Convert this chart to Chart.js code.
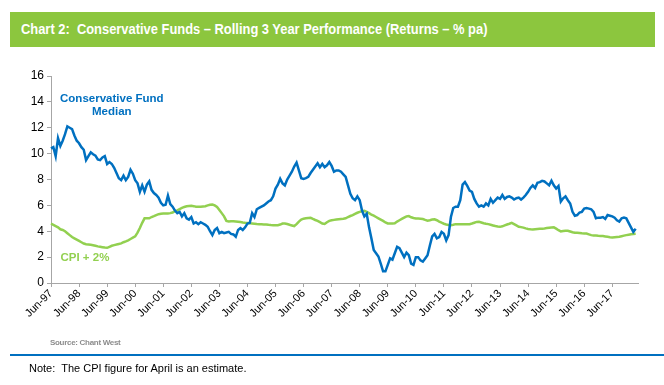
<!DOCTYPE html>
<html>
<head>
<meta charset="utf-8">
<script src="https://cdn.jsdelivr.net/npm/chart.js@4.4.1/dist/chart.umd.min.js"></script>
<style>
  body { margin: 0; background: #fff; width: 664px; height: 385px; overflow: hidden; position: relative; font-family: "Liberation Sans", Arial, sans-serif; }
  .title-bar { position: absolute; left: 10px; top: 12px; width: 645px; height: 35px; background: #8cc63e; }
  .title-bar span { position: absolute; left: 11px; top: 8px; color: #fff; font-weight: bold; font-size: 15px; white-space: nowrap; transform: scaleX(0.86); transform-origin: left center; font-family: "Liberation Sans Narrow", "Arial Narrow", "Liberation Sans", sans-serif; }
  #wrap { position: absolute; left: 0; top: 60px; width: 664px; height: 285px; }
  .source { position: absolute; left: 50px; top: 338px; font-size: 8px; font-weight: bold; color: #8c8c8c; letter-spacing: -0.3px; }
  .rule { position: absolute; left: 10px; top: 354px; width: 654px; height: 2px; background: #0070c0; }
  .note { position: absolute; left: 29px; top: 362px; font-size: 11px; color: #000; }
</style>
</head>
<body>
<div class="title-bar"><span>Chart 2:&nbsp; Conservative Funds – Rolling 3 Year Performance (Returns – % pa)</span></div>
<div id="wrap"><canvas id="chart"></canvas></div>
<div class="source">Source: Chant West</div>
<div class="rule"></div>
<div class="note">Note:&nbsp; The CPI figure for April is an estimate.</div>
<script>
// monthly series, Jun-97 .. Apr-18
const startYear = 1997;
const startMonth = 5; // June
const monthNames = ["Jan", "Feb", "Mar", "Apr", "May", "Jun", "Jul", "Aug", "Sep", "Oct", "Nov", "Dec"];

const conservativeMedian = [
  10.4, 10.5, 9.8, 11.2, 10.6, 11.0, 11.5, 12.1, 12.0, 11.9, 11.4, 11.0,
  10.8, 10.5, 10.3, 9.5, 9.8, 10.1, 9.95, 9.85, 9.55, 9.5, 9.7, 9.8,
  9.2, 9.35, 9.2, 8.9, 8.5, 8.1, 7.95, 8.3, 7.95, 8.2, 8.75, 8.45,
  7.95, 7.7, 7.05, 7.55, 7.05, 7.6, 7.85, 7.2, 6.95, 6.8, 6.6, 6.2,
  6.0, 6.05, 6.75, 6.1, 5.9, 5.6, 5.4, 5.5, 5.15, 5.4, 5.0, 4.9,
  5.1, 4.6, 4.7, 4.55, 4.7, 4.6, 4.5, 4.35, 4.0, 3.7, 4.1, 4.25,
  3.85, 3.95, 3.85, 3.9, 3.95, 3.8, 3.75, 3.57, 4.1, 4.25, 4.1, 4.3,
  4.6, 4.65, 5.4, 5.1, 5.7, 5.8, 5.9, 6.0, 6.15, 6.3, 6.4, 6.7,
  7.3, 7.6, 8.05, 7.7, 7.55, 8.0, 8.3, 8.6, 9.0, 9.3, 8.7, 8.1,
  8.05, 8.1, 8.2, 8.5, 8.75, 9.0, 9.25, 8.95, 9.2, 8.95, 9.1, 9.35,
  9.05, 8.6, 8.7, 8.7, 8.6, 8.4, 8.2, 7.55, 6.9, 6.55, 6.4, 6.7,
  6.4, 5.6, 5.15, 5.35, 4.3, 3.45, 2.55, 2.3, 2.05, 1.5, 0.9, 0.9,
  1.4, 1.9, 1.8, 2.3, 2.8, 2.7, 2.35, 2.0, 2.35, 2.15, 1.5, 1.4,
  2.0, 2.0, 1.75, 1.65, 1.9, 2.15, 2.9, 3.6, 3.8, 3.45, 3.55, 3.95,
  3.8, 3.3, 3.7, 5.1, 5.8, 5.9, 5.9, 6.4, 7.6, 7.8, 7.5, 7.15,
  7.05, 6.5, 6.15, 5.9, 6.0, 5.9, 6.15, 6.0, 6.5, 6.2, 6.4, 6.6,
  6.5, 6.8, 6.5, 6.65, 6.7, 6.6, 6.45, 6.55, 6.6, 6.45, 6.6, 6.8,
  7.05, 7.35, 7.55, 7.35, 7.75, 7.8, 7.9, 7.85, 7.7, 7.55, 7.9, 7.55,
  7.3, 7.5, 6.3, 6.55, 6.7, 6.4, 6.15, 5.5, 5.2, 5.25, 5.45, 5.5,
  5.75, 5.8, 5.75, 5.7, 5.5, 5.0, 5.05, 5.05, 5.1, 4.95, 5.25, 5.2,
  5.15, 5.05, 4.85, 4.75, 5.0, 5.05, 5.0, 4.65, 4.3, 3.95, 4.2
];

const cpiPlus2 = [
  4.6, 4.5, 4.4, 4.3, 4.15, 4.1, 4.0, 3.85, 3.7, 3.55, 3.45, 3.35,
  3.25, 3.15, 3.05, 3.0, 2.98, 2.95, 2.92, 2.88, 2.83, 2.8, 2.77, 2.74,
  2.72, 2.8, 2.88, 2.93, 2.97, 3.02, 3.06, 3.15, 3.22, 3.3, 3.4, 3.5,
  3.6, 3.9, 4.25, 4.65, 5.0, 5.0, 5.0, 5.1, 5.17, 5.25, 5.32, 5.35,
  5.37, 5.38, 5.38, 5.4, 5.45, 5.55, 5.62, 5.72, 5.8, 5.88, 5.93, 5.96,
  5.97, 5.94, 5.9, 5.89, 5.9, 5.92, 5.94, 6.0, 6.05, 6.07, 6.0, 5.88,
  5.65, 5.4, 5.15, 4.8, 4.75, 4.78, 4.78, 4.76, 4.74, 4.72, 4.68, 4.65,
  4.63, 4.61, 4.6, 4.58, 4.56, 4.55, 4.54, 4.53, 4.53, 4.5, 4.48, 4.47,
  4.47, 4.47, 4.52, 4.6, 4.6, 4.56, 4.5, 4.45, 4.4, 4.55, 4.75, 4.9,
  4.97, 5.0, 5.03, 5.04, 4.95, 4.87, 4.8, 4.7, 4.6, 4.56, 4.7, 4.8,
  4.85, 4.88, 4.91, 4.93, 4.95, 4.97, 5.0, 5.1, 5.18, 5.25, 5.35, 5.43,
  5.5, 5.55, 5.58, 5.5, 5.4, 5.28, 5.2, 5.1, 5.0, 4.9, 4.8, 4.68,
  4.6, 4.6, 4.6, 4.62, 4.75, 4.85, 4.95, 5.05, 5.15, 5.17, 5.08, 5.02,
  4.99, 4.98, 4.97, 4.95, 4.88, 4.82, 4.85, 4.9, 4.92, 4.85, 4.75, 4.66,
  4.58, 4.52, 4.48, 4.47, 4.5, 4.55, 4.55, 4.55, 4.55, 4.54, 4.55, 4.55,
  4.6, 4.66, 4.72, 4.73, 4.68, 4.62, 4.58, 4.55, 4.5, 4.45, 4.4, 4.36,
  4.34, 4.38, 4.45, 4.52, 4.58, 4.65, 4.55, 4.45, 4.35, 4.32, 4.28, 4.22,
  4.18, 4.15, 4.14, 4.16, 4.18, 4.19, 4.2, 4.22, 4.25, 4.27, 4.29, 4.3,
  4.2, 4.08, 3.99, 4.02, 4.04, 4.04, 3.98, 3.92, 3.88, 3.88, 3.86, 3.84,
  3.83, 3.82, 3.76, 3.7, 3.68, 3.67, 3.65, 3.64, 3.63, 3.6, 3.57, 3.54,
  3.52, 3.54, 3.56, 3.58, 3.62, 3.66, 3.7, 3.73, 3.76, 3.78, 3.8
];

const yTicks = { min: 0, max: 16, step: 2 };

// month labels, one spare slot after the last point
const monthLabels = [];
for (let i = 0; i <= conservativeMedian.length; i++) {
  const m = (startMonth + i) % 12;
  const y = startYear + Math.floor((startMonth + i) / 12);
  monthLabels.push(monthNames[m] + "-" + String(y).slice(2));
}

const seriesLabels = {
  id: "seriesLabels",
  afterDatasetsDraw(chart) {
    const { ctx, scales } = chart;
    ctx.save();
    ctx.font = "bold 11.5px 'Liberation Sans', Arial, sans-serif";
    ctx.textAlign = "center";
    ctx.textBaseline = "middle";
    ctx.fillStyle = "#0070c0";
    ctx.fillText("Conservative Fund", scales.x.getPixelForValue(26), scales.y.getPixelForValue(14.2));
    ctx.fillText("Median", scales.x.getPixelForValue(26), scales.y.getPixelForValue(13.2));
    ctx.fillStyle = "#92d050";
    ctx.fillText("CPI + 2%", scales.x.getPixelForValue(14.5), scales.y.getPixelForValue(1.95));
    ctx.restore();
  },
};

const axisColor = "#a6a6a6";

new Chart(document.getElementById("chart"), {
  type: "line",
  data: {
    labels: monthLabels,
    datasets: [
      { label: "Conservative Fund Median", data: conservativeMedian, borderColor: "#0070c0", borderWidth: 2.5, pointRadius: 0, tension: 0 },
      { label: "CPI + 2%", data: cpiPlus2, borderColor: "#92d050", borderWidth: 2.5, pointRadius: 0, tension: 0 },
    ],
  },
  options: {
    responsive: true,
    maintainAspectRatio: false,
    animation: false,
    layout: { padding: { left: 0, right: 26, top: 16, bottom: 0 } },
    plugins: { legend: { display: false }, tooltip: { enabled: false } },
    scales: {
      x: {
        type: "category",
        offset: false,
        afterFit(scale) { scale.height = 62; },
        border: { color: axisColor, width: 1 },
        grid: { drawOnChartArea: false, drawTicks: true, tickLength: 4, color: axisColor },
        ticks: {
          autoSkip: false,
          maxRotation: 45,
          minRotation: 45,
          padding: 0,
          color: "#000",
          font: { size: 11, family: "'Liberation Sans', Arial, sans-serif" },
          callback(value) {
            const lbl = monthLabels[value];
            return lbl && lbl.startsWith("Jun") ? lbl : null;
          },
        },
      },
      y: {
        min: yTicks.min,
        max: yTicks.max,
        afterFit(scale) { scale.width = 51; },
        border: { color: axisColor, width: 1 },
        grid: { drawOnChartArea: false, tickLength: 4, color: axisColor },
        ticks: {
          stepSize: yTicks.step,
          padding: 3,
          color: "#000",
          font: { size: 12, family: "'Liberation Sans', Arial, sans-serif" },
        },
      },
    },
  },
  plugins: [seriesLabels],
});
</script>
</body>
</html>
